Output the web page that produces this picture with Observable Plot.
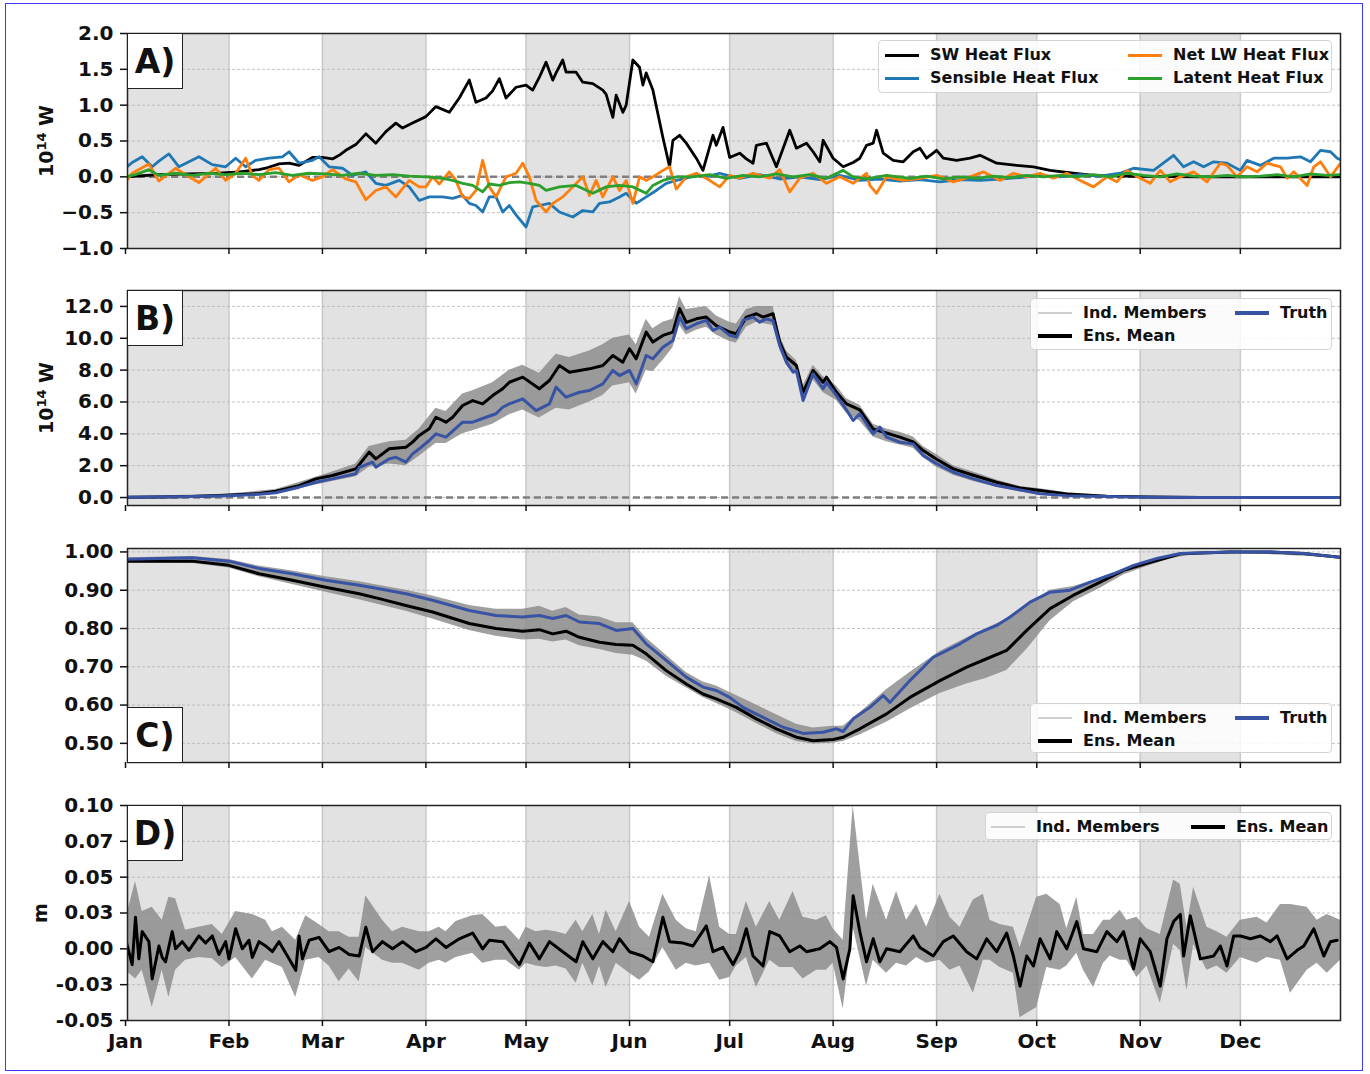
<!DOCTYPE html>
<html><head><meta charset="utf-8">
<script src="https://cdn.jsdelivr.net/npm/d3@7"></script>
<script src="https://cdn.jsdelivr.net/npm/@observablehq/plot@0.6"></script>
<style>
body{margin:0;background:#fff;}
#wrap{position:relative;width:1370px;height:1074px;font-family:"DejaVu Sans",sans-serif;font-weight:bold;color:#111;}
.panel{position:absolute;left:0;}
.lbl{position:absolute;background:#fff;border:1.5px solid #222;box-sizing:border-box;width:56px;height:56px;font-size:33px;display:flex;align-items:center;justify-content:center;}
.leg{position:absolute;background:rgba(255,255,255,0.85);border:1px solid #d4d4d4;border-radius:4px;box-sizing:border-box;font-size:16px;}
.item{position:absolute;display:flex;align-items:center;white-space:nowrap;height:20px;line-height:20px;}
.sw{display:inline-block;width:34px;margin-right:11px;}
.ylab{position:absolute;width:200px;text-align:center;transform:rotate(-90deg);font-size:19px;line-height:24px;height:24px;}
.border{position:absolute;left:5px;top:3px;width:1358px;height:1068px;border:1px solid #3b3bff;box-sizing:border-box;pointer-events:none;}
</style>
</head><body>
<div id="wrap"></div>
<script>
// ---------- categories / ticks ----------
const monthNames = ["Jan","Feb","Mar","Apr","May","Jun","Jul","Aug","Sep","Oct","Nov","Dec"];
const monthStarts = [0,31,59,90,120,151,181,212,243,273,304,334];
const shadeStart = [0,59,120,181,243,304];
const shadeEnd   = [31,90,151,212,273,334];

const aTicks = [-1,-0.5,0,0.5,1,1.5,2];
const aTickLabels = ["\u22121.0","\u22120.5","0.0","0.5","1.0","1.5","2.0"];
const bTicks = [0,2,4,6,8,10,12];
const bTickLabels = ["0.0","2.0","4.0","6.0","8.0","10.0","12.0"];
const cTicks = [0.5,0.6,0.7,0.8,0.9,1.0];
const cTickLabels = ["0.50","0.60","0.70","0.80","0.90","1.00"];
const dTicks = [-0.05,-0.025,0,0.025,0.05,0.075,0.1];
const dTickLabels = ["-0.05","-0.03","0.00","0.03","0.05","0.07","0.10"];

// ---------- Panel A: heat fluxes [day, 1e14 W] ----------
const swFlux = [[0,0.0],[10,0.03],[19,0.04],[28,0.05],[34,0.07],[40,0.10],[42,0.12],[46,0.18],[49,0.19],[52,0.16],[56,0.27],[59,0.27],[62,0.25],[64,0.30],[66,0.37],[69,0.45],[72,0.60],[75,0.47],[78,0.63],[81,0.75],[83,0.68],[86,0.75],[90,0.84],[93,0.98],[97,0.90],[100,1.10],[103,1.35],[105,1.04],[108,1.10],[110,1.20],[112,1.37],[114,1.10],[116,1.20],[117,1.25],[120,1.28],[122,1.21],[124,1.39],[126,1.60],[128,1.35],[129,1.45],[131,1.63],[132,1.46],[135,1.46],[137,1.32],[140,1.30],[143,1.21],[144,1.15],[146,0.83],[147,1.14],[149,0.90],[150,1.00],[152,1.63],[154,1.53],[155,1.28],[156,1.45],[158,1.21],[161,0.55],[163,0.14],[164,0.51],[166,0.58],[168,0.47],[171,0.26],[173,0.09],[176,0.58],[177,0.44],[179,0.69],[181,0.27],[184,0.33],[186,0.25],[188,0.19],[189,0.44],[192,0.47],[195,0.14],[199,0.65],[201,0.40],[204,0.47],[206,0.35],[208,0.21],[209,0.51],[212,0.26],[215,0.14],[218,0.20],[220,0.26],[222,0.44],[224,0.47],[225,0.65],[227,0.33],[230,0.23],[233,0.21],[236,0.35],[238,0.40],[240,0.26],[243,0.37],[245,0.26],[249,0.23],[253,0.26],[256,0.30],[261,0.19],[267,0.16],[272,0.14],[277,0.09],[284,0.05],[290,0.02],[298,0.01],[322,0.0],[364,0.0]];
const sensibleFlux = [[0,0.12],[2,0.20],[5,0.28],[8,0.14],[10,0.22],[13,0.32],[16,0.14],[19,0.21],[22,0.28],[26,0.17],[30,0.14],[33,0.26],[36,0.14],[39,0.23],[43,0.26],[47,0.28],[49,0.35],[52,0.19],[56,0.23],[58,0.28],[61,0.14],[65,0.12],[68,0.02],[72,0.07],[75,-0.09],[78,-0.12],[82,-0.05],[85,-0.14],[88,-0.33],[91,-0.28],[95,-0.28],[98,-0.30],[101,-0.26],[103,-0.37],[105,-0.40],[107,-0.49],[109,-0.28],[111,-0.28],[113,-0.49],[115,-0.40],[117,-0.53],[120,-0.70],[122,-0.42],[124,-0.40],[127,-0.37],[130,-0.49],[134,-0.56],[137,-0.47],[140,-0.49],[142,-0.37],[145,-0.35],[148,-0.28],[150,-0.23],[153,-0.37],[156,-0.28],[159,-0.19],[162,-0.09],[165,-0.05],[168,-0.02],[171,0.02],[174,0.00],[178,0.05],[184,-0.02],[190,0.03],[196,-0.03],[202,0.00],[208,-0.04],[214,0.02],[220,-0.05],[226,-0.03],[232,-0.06],[238,-0.04],[244,-0.07],[250,-0.04],[256,-0.05],[262,-0.03],[268,-0.01],[274,0.02],[280,0.00],[286,0.03],[292,0.01],[298,0.05],[302,0.12],[308,0.09],[310,0.16],[314,0.30],[317,0.14],[320,0.21],[323,0.14],[326,0.21],[330,0.19],[334,0.09],[336,0.23],[340,0.16],[344,0.26],[348,0.26],[352,0.28],[355,0.21],[358,0.37],[361,0.35],[363,0.26],[364,0.24]];
const netLwFlux = [[0,-0.08],[2,0.05],[7,0.18],[10,-0.06],[15,0.12],[19,0.00],[22,-0.08],[27,0.12],[30,-0.05],[33,0.05],[36,0.26],[38,0.02],[40,-0.05],[43,0.10],[46,0.12],[49,-0.07],[52,0.03],[56,-0.05],[59,0.00],[62,0.10],[66,-0.03],[69,-0.07],[72,-0.32],[75,-0.19],[78,-0.14],[81,-0.28],[85,-0.05],[88,-0.14],[90,-0.14],[92,0.00],[94,-0.10],[97,0.07],[99,-0.05],[101,-0.28],[103,-0.30],[105,-0.19],[107,0.23],[109,-0.14],[111,-0.28],[114,0.00],[117,0.05],[119,0.19],[121,0.00],[123,-0.33],[126,-0.49],[128,-0.37],[131,-0.28],[134,-0.14],[137,0.00],[139,-0.26],[141,-0.05],[143,-0.28],[146,0.00],[148,-0.19],[150,-0.05],[152,-0.37],[154,0.00],[156,-0.05],[158,0.00],[161,0.09],[163,0.14],[165,-0.17],[168,0.00],[171,0.05],[174,-0.02],[178,-0.14],[181,0.02],[184,-0.02],[188,0.05],[193,-0.02],[196,0.10],[199,-0.21],[202,-0.02],[206,0.05],[210,-0.09],[214,0.00],[218,-0.09],[222,0.05],[223,-0.12],[225,-0.23],[228,0.00],[233,-0.05],[238,-0.02],[243,0.02],[248,-0.07],[253,0.00],[257,0.07],[262,-0.05],[266,0.05],[270,0.00],[274,0.05],[278,-0.02],[282,0.05],[286,-0.05],[290,-0.14],[294,0.00],[297,-0.07],[300,0.09],[304,-0.02],[307,-0.09],[310,0.09],[313,-0.07],[316,0.00],[320,0.07],[324,-0.07],[328,0.19],[330,0.16],[333,0.00],[336,0.14],[339,0.07],[342,0.19],[346,0.14],[348,-0.02],[350,0.07],[354,-0.12],[356,0.14],[358,0.21],[361,0.00],[364,0.19]];
const latentFlux = [[0,0.0],[3,0.03],[7,0.10],[10,0.02],[15,0.05],[20,0.02],[25,0.05],[30,0.03],[35,0.05],[40,0.03],[45,0.06],[50,0.02],[55,0.05],[60,0.04],[65,0.02],[70,0.05],[75,0.02],[80,0.03],[85,0.01],[90,0.00],[95,-0.02],[98,-0.05],[101,-0.09],[104,-0.12],[107,-0.21],[109,-0.10],[112,-0.12],[115,-0.08],[118,-0.07],[121,-0.09],[124,-0.12],[126,-0.19],[130,-0.14],[135,-0.12],[140,-0.23],[144,-0.14],[148,-0.12],[152,-0.14],[156,-0.23],[158,-0.12],[161,-0.05],[165,0.00],[170,0.00],[175,0.03],[180,-0.02],[185,0.02],[190,0.00],[195,0.04],[200,0.00],[205,0.03],[210,-0.02],[215,0.09],[218,0.00],[222,-0.03],[228,0.02],[235,-0.02],[240,0.01],[245,-0.03],[250,0.00],[255,-0.02],[260,0.01],[265,-0.01],[270,0.02],[275,0.00],[280,0.02],[285,0.00],[290,0.03],[295,0.00],[300,0.05],[305,0.02],[310,0.00],[315,0.04],[320,0.01],[325,0.00],[330,0.02],[335,0.00],[340,0.01],[345,0.03],[350,0.00],[355,0.04],[360,0.02],[364,0.03]];

// ---------- Panel B: [day, 1e14 W] ----------
const bTruth = [[0,0.02],[10,0.03],[20,0.06],[30,0.12],[40,0.2],[45,0.3],[52,0.65],[57,0.96],[62,1.17],[69,1.49],[70,1.9],[74,2.22],[75,1.9],[79,2.43],[81,2.53],[84,2.22],[86,2.74],[88,3.06],[91,3.58],[93,4.0],[96,3.79],[101,4.73],[104,4.73],[108,5.04],[111,5.26],[113,5.67],[115,5.88],[119,6.2],[123,5.46],[127,5.88],[129,6.93],[132,6.3],[136,6.61],[139,6.72],[143,7.14],[146,7.98],[148,7.66],[151,7.98],[153,7.14],[156,8.92],[158,8.71],[161,9.44],[164,9.86],[166,11.33],[168,10.6],[171,10.91],[174,11.12],[176,10.49],[178,10.7],[181,10.18],[183,10.07],[185,11.12],[188,11.33],[190,11.01],[192,11.22],[194,11.1],[196,9.55],[198,8.5],[200,7.87],[201,7.98],[203,6.09],[206,7.77],[209,6.83],[210,7.24],[213,6.4],[216,5.5],[218,4.84],[220,5.26],[224,4.0],[226,4.42],[228,3.79],[232,3.47],[236,3.37],[239,2.64],[243,2.12],[248,1.59],[254,1.17],[261,0.75],[269,0.44],[274,0.23],[282,0.12],[294,0.06],[307,0.02],[322,0.0],[364,0.0]];
const bMean = [[0,0.02],[10,0.03],[20,0.07],[30,0.14],[40,0.25],[45,0.4],[52,0.75],[57,1.17],[62,1.38],[69,1.8],[73,2.85],[75,2.43],[79,3.06],[84,3.16],[86,3.48],[88,3.9],[91,4.32],[93,5.04],[96,4.73],[98,5.04],[101,5.78],[104,6.09],[107,5.88],[110,6.4],[113,6.83],[115,7.24],[119,7.56],[124,6.83],[127,7.35],[130,8.29],[133,7.87],[136,7.98],[139,8.08],[143,8.29],[146,8.92],[149,8.5],[151,9.34],[153,8.71],[156,10.39],[158,9.76],[161,10.18],[164,10.39],[166,11.86],[168,11.0],[171,11.22],[174,11.33],[177,10.8],[181,10.39],[183,10.28],[186,11.33],[189,11.54],[191,11.33],[194,11.54],[196,9.76],[198,8.81],[201,8.29],[203,6.6],[206,7.98],[209,7.24],[210,7.56],[213,6.61],[216,5.88],[220,5.5],[224,4.3],[228,4.05],[232,3.79],[236,3.5],[239,2.95],[243,2.4],[248,1.8],[254,1.4],[261,0.96],[268,0.6],[274,0.44],[282,0.23],[294,0.08],[307,0.03],[322,0.0],[364,0.0]];
// members envelope [day, low, high]
const bMembers = [[0,0.0,0.05],[30,0.08,0.2],[45,0.25,0.5],[52,0.55,0.95],[62,1.0,1.6],[69,1.3,2.1],[73,1.9,3.2],[79,2.1,3.5],[84,2.0,3.6],[88,2.6,4.3],[93,3.4,5.6],[96,3.4,5.4],[101,4.0,6.5],[104,4.2,6.7],[110,4.6,7.2],[115,5.2,8.0],[119,5.5,8.3],[124,5.0,7.8],[129,5.6,9.0],[133,5.5,8.8],[139,6.0,9.2],[143,6.4,9.6],[146,7.0,10.0],[151,7.2,10.2],[153,6.5,9.6],[156,8.0,11.2],[158,7.9,10.6],[161,8.6,11.0],[164,9.4,11.2],[166,10.8,12.6],[168,10.2,11.8],[171,10.5,11.9],[174,10.7,12.0],[177,10.2,11.4],[181,9.8,11.0],[183,9.7,10.9],[186,10.7,11.8],[189,11.0,12.0],[194,10.8,12.0],[196,9.3,10.2],[198,8.3,9.2],[201,7.7,8.6],[203,6.0,7.0],[206,7.4,8.3],[209,6.6,7.6],[213,6.1,7.0],[216,5.3,6.2],[220,4.8,5.8],[224,3.8,4.6],[228,3.5,4.3],[232,3.3,4.1],[236,3.1,3.8],[239,2.5,3.2],[243,1.9,2.7],[248,1.4,2.0],[254,1.0,1.6],[261,0.65,1.1],[268,0.35,0.7],[274,0.2,0.55],[282,0.1,0.3],[294,0.04,0.12],[307,0.01,0.05],[322,0.0,0.01],[364,0.0,0.0]];

// ---------- Panel C: [day, fraction] ----------
const cTruth = [[0,0.981],[10,0.983],[20,0.985],[31,0.976],[40,0.957],[50,0.943],[60,0.926],[70,0.913],[76,0.904],[84,0.891],[92,0.874],[103,0.847],[111,0.834],[119,0.830],[124,0.834],[128,0.826],[132,0.834],[136,0.817],[142,0.813],[147,0.795],[152,0.800],[156,0.760],[162,0.717],[168,0.673],[173,0.647],[177,0.638],[181,0.620],[185,0.594],[191,0.568],[197,0.542],[203,0.526],[209,0.529],[213,0.538],[215,0.531],[218,0.564],[223,0.594],[227,0.625],[229,0.607],[235,0.664],[242,0.725],[250,0.760],[255,0.786],[261,0.808],[265,0.830],[271,0.869],[277,0.895],[283,0.900],[289,0.921],[296,0.943],[302,0.965],[309,0.983],[316,0.996],[331,1.000],[343,1.000],[353,0.996],[363,0.987],[364,0.986]];
const cMean = [[0,0.976],[20,0.976],[31,0.965],[40,0.943],[50,0.926],[60,0.908],[70,0.891],[76,0.878],[84,0.860],[92,0.843],[103,0.813],[111,0.800],[119,0.793],[124,0.797],[128,0.786],[132,0.793],[136,0.777],[142,0.764],[147,0.758],[152,0.756],[156,0.734],[162,0.690],[168,0.655],[173,0.629],[177,0.616],[183,0.594],[189,0.564],[195,0.538],[201,0.516],[206,0.507],[212,0.510],[215,0.516],[220,0.538],[228,0.577],[235,0.620],[244,0.664],[252,0.699],[258,0.721],[264,0.743],[270,0.795],[277,0.852],[284,0.887],[292,0.921],[299,0.952],[306,0.970],[313,0.987],[316,0.995],[331,1.000],[343,1.000],[353,0.996],[363,0.987],[364,0.986]];
const cMembers = [[0,0.972,0.985],[20,0.970,0.988],[31,0.958,0.980],[40,0.935,0.963],[50,0.915,0.950],[60,0.895,0.935],[70,0.875,0.922],[84,0.845,0.900],[92,0.825,0.885],[103,0.795,0.860],[111,0.780,0.850],[119,0.770,0.850],[124,0.772,0.858],[128,0.765,0.845],[132,0.770,0.855],[136,0.755,0.835],[142,0.745,0.830],[147,0.735,0.815],[152,0.730,0.815],[156,0.715,0.775],[162,0.675,0.730],[168,0.645,0.685],[173,0.620,0.660],[177,0.605,0.650],[183,0.580,0.625],[189,0.552,0.600],[195,0.525,0.575],[201,0.505,0.550],[206,0.498,0.540],[212,0.500,0.545],[215,0.505,0.545],[220,0.522,0.580],[228,0.555,0.640],[235,0.590,0.685],[244,0.630,0.740],[252,0.655,0.775],[258,0.670,0.800],[264,0.690,0.825],[270,0.745,0.860],[277,0.820,0.900],[284,0.870,0.910],[292,0.905,0.930],[299,0.940,0.955],[306,0.962,0.975],[313,0.982,0.990],[320,0.993,0.998],[331,0.998,1.002],[364,0.984,0.988]];

// ---------- Panel D: [day, m] ----------
const dMean = [[0,0.007],[2,-0.011],[3,0.022],[4,-0.007],[5,0.012],[7,0.005],[8,-0.021],[10,0.002],[11,-0.006],[12,-0.009],[14,0.012],[15,0.0],[17,0.005],[19,-0.001],[22,0.009],[24,0.004],[26,0.009],[28,-0.004],[30,0.005],[31,-0.007],[33,0.014],[35,0.0],[37,0.006],[38,-0.006],[40,0.005],[42,0.002],[44,-0.002],[46,0.005],[49,-0.007],[51,-0.015],[52,0.009],[53,-0.007],[55,0.006],[58,0.008],[61,-0.002],[64,0.001],[67,-0.004],[70,-0.005],[72,0.015],[74,-0.002],[77,0.005],[80,0.0],[83,0.005],[87,-0.002],[90,0.001],[93,0.007],[96,0.001],[100,0.007],[104,0.011],[107,0.0],[109,0.006],[113,0.005],[118,-0.011],[121,0.004],[124,-0.007],[127,0.005],[131,-0.002],[135,-0.009],[137,0.005],[140,-0.007],[143,0.005],[146,-0.002],[148,0.007],[151,-0.002],[155,-0.005],[158,-0.009],[161,0.022],[163,0.005],[167,0.004],[170,0.002],[174,0.016],[176,-0.002],[179,0.001],[182,-0.011],[184,-0.002],[186,0.014],[188,-0.005],[191,-0.012],[193,0.012],[196,0.009],[199,-0.002],[202,0.002],[204,-0.002],[208,0.0],[211,0.005],[213,0.001],[215,-0.021],[217,0.0],[218,0.037],[220,0.012],[222,-0.009],[224,0.007],[226,-0.009],[228,0.0],[232,-0.002],[236,0.009],[238,0.001],[242,-0.005],[245,0.005],[248,0.009],[252,-0.002],[255,-0.007],[258,0.007],[261,-0.002],[264,0.011],[266,-0.005],[268,-0.026],[270,-0.005],[272,-0.012],[274,0.007],[277,-0.007],[279,0.012],[282,0.0],[285,0.019],[287,0.0],[291,-0.002],[294,0.012],[297,0.005],[299,0.012],[302,-0.014],[304,0.007],[307,-0.002],[310,-0.026],[312,0.007],[314,0.019],[316,0.024],[317,-0.005],[319,0.023],[322,-0.007],[326,-0.005],[328,0.002],[330,-0.012],[332,0.009],[334,0.009],[337,0.007],[340,0.009],[343,0.005],[345,0.009],[348,-0.007],[351,-0.001],[353,0.002],[356,0.014],[359,-0.005],[361,0.005],[363,0.006]];
const dMembers = [[0,-0.015,0.02],[3,-0.021,0.047],[5,-0.015,0.026],[8,-0.041,0.029],[11,-0.015,0.02],[13,-0.034,0.036],[15,-0.015,0.035],[18,-0.008,0.013],[22,-0.006,0.015],[26,-0.007,0.017],[29,-0.013,0.01],[33,-0.006,0.026],[38,-0.021,0.024],[42,-0.008,0.02],[44,-0.01,0.012],[47,-0.013,0.015],[51,-0.034,0.006],[54,-0.008,0.023],[58,-0.006,0.017],[61,-0.012,0.012],[64,-0.023,0.012],[67,-0.014,0.008],[70,-0.023,0.008],[72,0.001,0.037],[77,-0.008,0.02],[80,-0.01,0.012],[83,-0.01,0.015],[88,-0.015,0.012],[91,-0.01,0.012],[94,-0.008,0.015],[96,-0.01,0.012],[99,-0.006,0.019],[104,-0.003,0.023],[107,-0.01,0.024],[111,-0.008,0.015],[114,-0.008,0.016],[118,-0.015,0.006],[120,-0.01,0.015],[123,-0.012,0.012],[126,-0.013,0.013],[129,-0.012,0.012],[132,-0.014,0.01],[135,-0.024,0.02],[137,-0.01,0.012],[140,-0.026,0.024],[142,-0.012,0.01],[144,-0.027,0.027],[147,-0.01,0.012],[151,-0.017,0.033],[154,-0.022,0.015],[157,-0.016,0.008],[161,0.001,0.038],[165,-0.015,0.02],[168,-0.01,0.014],[171,-0.012,0.012],[175,-0.01,0.051],[178,-0.022,0.015],[181,-0.02,0.01],[183,-0.012,0.01],[186,-0.006,0.033],[189,-0.027,0.015],[193,-0.008,0.033],[196,-0.013,0.02],[200,-0.013,0.04],[203,-0.021,0.022],[207,-0.015,0.02],[210,-0.015,0.023],[212,-0.01,0.014],[215,-0.042,0.006],[218,0.015,0.1],[222,-0.026,0.02],[224,-0.008,0.045],[228,-0.017,0.02],[231,-0.01,0.04],[234,-0.012,0.02],[237,-0.006,0.031],[240,-0.01,0.015],[244,-0.008,0.038],[247,-0.015,0.022],[250,-0.012,0.015],[254,-0.031,0.034],[257,-0.008,0.038],[259,-0.008,0.02],[262,-0.013,0.017],[266,-0.017,0.015],[268,-0.048,0.001],[273,-0.041,0.036],[276,-0.013,0.038],[280,-0.015,0.031],[282,-0.012,0.014],[285,-0.003,0.036],[287,-0.015,0.01],[290,-0.027,0.01],[293,-0.01,0.02],[295,-0.005,0.02],[298,-0.008,0.027],[300,-0.008,0.02],[303,-0.02,0.022],[306,-0.012,0.014],[310,-0.038,0.01],[314,0.003,0.048],[316,-0.001,0.045],[318,-0.029,0.015],[320,0.003,0.043],[324,-0.015,0.015],[327,-0.012,0.012],[330,-0.017,0.008],[334,-0.006,0.02],[339,-0.01,0.022],[342,-0.006,0.018],[346,-0.008,0.031],[349,-0.031,0.031],[354,-0.015,0.029],[357,-0.01,0.02],[360,-0.017,0.024],[364,-0.008,0.02]];

// ---------- colours ----------
const cSW = "#000000", cSens = "#1f77b4", cLW = "#ff7f0e", cLat = "#2ca02c";
const cTruthCol = "#3953a4", cMeanCol = "#000000", cMemb = "#8a8a8a";

const wrap = document.getElementById("wrap");

function makePanel({frameTop, frameH, mt, mb, yDomain, yTicks, yLabels, marks, xLabels}) {
  const lab = new Map(yTicks.map((v, i) => [v, yLabels[i]]));
  const mlab = new Map(monthStarts.map((v, i) => [v, monthNames[i]]));
  const p = Plot.plot({
    width: 1370, height: mt + frameH + mb,
    marginLeft: 127, marginRight: 30, marginTop: mt, marginBottom: mb,
    style: {background: "transparent", font: "bold 20px 'DejaVu Sans', sans-serif", color: "#111", overflow: "visible"},
    x: {domain: [0.6, 364]},
    y: {domain: yDomain},
    marks: [
      Plot.rect(shadeStart, {x1: (d) => d, x2: (d, i) => shadeEnd[i], fill: "#e2e2e2", clip: true}),
      Plot.ruleX(monthStarts.slice(1), {stroke: "#cacaca", strokeWidth: 1.6}),
      Plot.ruleY(yTicks, {stroke: "#b4b4b4", strokeWidth: 0.8, strokeDasharray: "3,2"}),
      ...marks,
      Plot.frame({stroke: "#222", strokeWidth: 1.5}),
      Plot.axisY({ticks: yTicks, tickFormat: (d) => lab.get(d), tickSize: 7, tickPadding: 7, strokeWidth: 1.5, label: null}),
      Plot.axisX({ticks: monthStarts, tickFormat: xLabels ? (d) => mlab.get(d) : () => "", tickSize: 6, tickPadding: 7, strokeWidth: 1.5, label: null})
    ]
  });
  p.classList.add("panel");
  p.style.position = "absolute";
  p.style.top = (frameTop - mt) + "px";
  p.style.left = "0px";
  wrap.appendChild(p);
}

const L = (data, stroke, w) => Plot.line(data, {x: "0", y: "1", stroke, strokeWidth: w, clip: true});
const Band = (data, fill) => Plot.areaY(data, {x: "0", y1: "1", y2: "2", fill, fillOpacity: 0.82, clip: true});

// Panel A
makePanel({frameTop: 33, frameH: 215, mt: 10, mb: 16, yDomain: [-1, 2], yTicks: aTicks, yLabels: aTickLabels,
  marks: [
    Plot.ruleY([0], {stroke: "#7f7f7f", strokeWidth: 2.5, strokeDasharray: "7,4"}),
    L(swFlux, cSW, 2.8), L(sensibleFlux, cSens, 2.8), L(netLwFlux, cLW, 2.8), L(latentFlux, cLat, 2.8)
  ]});
// Panel B
makePanel({frameTop: 290, frameH: 215, mt: 10, mb: 16, yDomain: [-0.5, 13.0], yTicks: bTicks, yLabels: bTickLabels,
  marks: [
    Plot.ruleY([0], {stroke: "#7f7f7f", strokeWidth: 2.5, strokeDasharray: "7,4"}),
    Band(bMembers, cMemb), L(bMean, cMeanCol, 3), L(bTruth, cTruthCol, 3)
  ]});
// Panel C
makePanel({frameTop: 548, frameH: 214, mt: 10, mb: 16, yDomain: [0.45, 1.009], yTicks: cTicks, yLabels: cTickLabels,
  marks: [Band(cMembers, cMemb), L(cMean, cMeanCol, 3), L(cTruth, cTruthCol, 3)]});
// Panel D
makePanel({frameTop: 805, frameH: 215, mt: 10, mb: 45, yDomain: [-0.05, 0.1], yTicks: dTicks, yLabels: dTickLabels, xLabels: true,
  marks: [Band(dMembers, cMemb), L(dMean, cMeanCol, 3)]});

// ---------- overlays: panel letters, y labels, legends ----------
function addDiv(cls, css, html) {
  const d = document.createElement("div");
  d.className = cls; Object.assign(d.style, css); d.innerHTML = html; wrap.appendChild(d); return d;
}
addDiv("lbl", {left: "127px", top: "33px"}, "A)");
addDiv("lbl", {left: "127px", top: "290px"}, "B)");
addDiv("lbl", {left: "127px", top: "707px"}, "C)");
addDiv("lbl", {left: "127px", top: "805px"}, "D)");

const yl = "10<sup style='font-size:13px;vertical-align:7px'>14</sup> W";
addDiv("ylab", {left: (42 - 100) + "px", top: (141 - 12) + "px"}, yl);
addDiv("ylab", {left: (42 - 100) + "px", top: (398 - 12) + "px"}, yl);
addDiv("ylab", {left: (40 - 100) + "px", top: (913 - 12) + "px"}, "m");

function legend(box, items) {
  const b = addDiv("leg", {left: box[0] + "px", top: box[1] + "px", width: box[2] + "px", height: box[3] + "px"}, "");
  for (const it of items) {
    const d = document.createElement("div");
    d.className = "item";
    d.style.left = it.x + "px"; d.style.top = (it.y - 10) + "px";
    d.innerHTML = `<span class="sw" style="height:${it.h}px;background:${it.c}"></span>${it.t}`;
    b.appendChild(d);
  }
}
legend([878, 40, 454, 53], [
  {x: 6, y: 14, c: cSW, h: 3, t: "SW Heat Flux"},
  {x: 6, y: 37, c: cSens, h: 3, t: "Sensible Heat Flux"},
  {x: 249, y: 14, c: cLW, h: 3, t: "Net LW Heat Flux"},
  {x: 249, y: 37, c: cLat, h: 3, t: "Latent Heat Flux"}
]);
legend([1030, 298, 302, 52], [
  {x: 7, y: 14, c: "#cfcfcf", h: 1.5, t: "Ind. Members"},
  {x: 7, y: 37, c: cMeanCol, h: 3.5, t: "Ens. Mean"},
  {x: 204, y: 14, c: cTruthCol, h: 3.5, t: "Truth"}
]);
legend([1030, 703, 302, 50], [
  {x: 7, y: 14, c: "#cfcfcf", h: 1.5, t: "Ind. Members"},
  {x: 7, y: 37, c: cMeanCol, h: 3.5, t: "Ens. Mean"},
  {x: 204, y: 14, c: cTruthCol, h: 3.5, t: "Truth"}
]);
legend([985, 812, 347, 28], [
  {x: 5, y: 14, c: "#cfcfcf", h: 1.5, t: "Ind. Members"},
  {x: 205, y: 14, c: cMeanCol, h: 3.5, t: "Ens. Mean"}
]);
addDiv("border", {}, "");
</script>
</body></html>
